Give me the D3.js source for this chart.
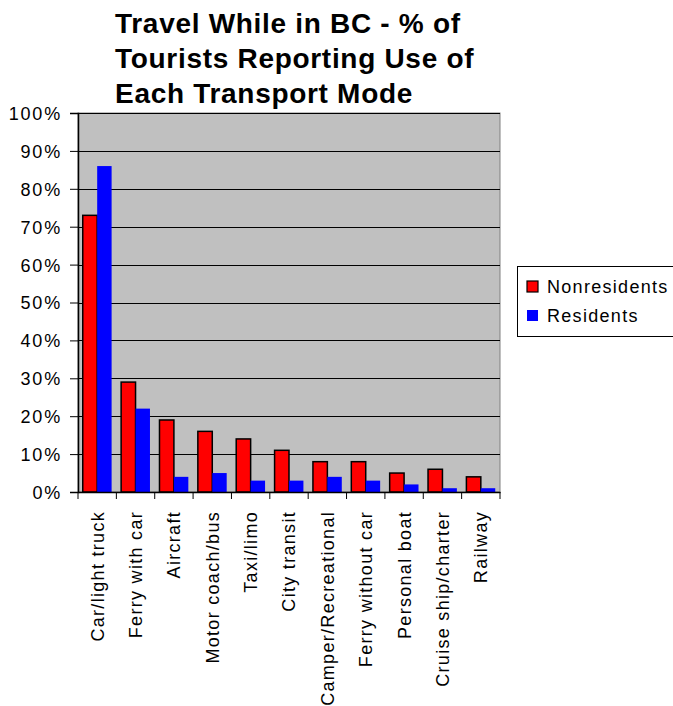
<!DOCTYPE html>
<html><head><meta charset="utf-8">
<script src="https://cdn.jsdelivr.net/npm/d3@7"></script>
<style>body{margin:0;background:#fff}svg{display:block}text{font-family:"Liberation Sans",Arial,sans-serif}</style>
</head><body>
<script>
const categories = ["Car/light truck","Ferry with car","Aircraft","Motor coach/bus","Taxi/limo","City transit","Camper/Recreational","Ferry without car","Personal boat","Cruise ship/charter","Railway"];
const nonresidents = [73,29,19,16,14,11,8,8,5,6,4];
const residents = [86,22,4,5,3,3,4,3,2,1,1];
const seriesNames = ["Nonresidents","Residents"];
const yTicks = [0,10,20,30,40,50,60,70,80,90,100];
const titleLines = ["Travel While in BC - % of","Tourists Reporting Use of","Each Transport Mode"];

const W=673,H=706;
const m={l:78,r:500,t:113,b:492};
const svg=d3.select("body").append("svg").attr("width",W).attr("height",H);

const x=d3.scaleBand().domain(categories).range([m.l,m.r]).paddingInner(0).paddingOuter(0);
const xs=d3.scaleBand().domain(seriesNames).range([0,x.bandwidth()]).paddingInner(0).paddingOuter(0.33);
const y=d3.scaleLinear().domain([0,100]).range([m.b,m.t]);

svg.append("rect").attr("x",m.l).attr("y",m.t).attr("width",m.r-m.l).attr("height",m.b-m.t).attr("fill","#c0c0c0").attr("stroke","#808080").attr("stroke-width",1);

svg.append("g").selectAll("line").data(yTicks.slice(1)).join("line")
 .attr("x1",m.l).attr("x2",m.r).attr("y1",d=>Math.round(y(d))+0.5).attr("y2",d=>Math.round(y(d))+0.5)
 .attr("stroke","#000").attr("stroke-width",1.2);

const data=categories.map((c,i)=>({c,v:[nonresidents[i],residents[i]]}));
const colors=["#ff0000","#0000ff"];
const g=svg.append("g");
data.forEach(d=>{
  seriesNames.forEach((s,j)=>{
    g.append("rect").attr("x",x(d.c)+xs(s)).attr("y",y(d.v[j])).attr("width",xs.bandwidth()).attr("height",y(0)-y(d.v[j]))
     .attr("fill",colors[j]).attr("stroke",j===0?"#000":"none").attr("stroke-width",1.5);
  });
});

const ya=d3.axisLeft(y).tickValues(yTicks).tickFormat(d=>d+"%").tickSize(8);
const yg=svg.append("g").attr("transform",`translate(${m.l},0)`).call(ya);
yg.select(".domain").attr("stroke","#000").attr("stroke-width",1.5);
yg.selectAll("text").attr("font-size",18).attr("letter-spacing","1.8px").attr("fill","#000").attr("x",-16).attr("dy","0.36em");

const xa=d3.axisBottom(x).tickValues([]).tickSizeOuter(0);
const xg=svg.append("g").attr("transform",`translate(0,${m.b})`).call(xa);
xg.select(".domain").attr("stroke","#000").attr("stroke-width",1.5);
xg.selectAll("line.tk").data(d3.range(categories.length+1)).join("line").attr("class","tk")
 .attr("x1",i=>m.l+i*x.step()).attr("x2",i=>m.l+i*x.step()).attr("y1",0).attr("y2",7).attr("stroke","#000");
svg.append("g").selectAll("text").data(categories).join("text")
 .attr("transform",d=>`translate(${x(d)+x.bandwidth()/2},511) rotate(-90)`)
 .attr("text-anchor","end").attr("dy","0.36em").attr("font-size",18).attr("letter-spacing","1.3px").attr("fill","#000").text(d=>d);

svg.append("g").selectAll("text").data(titleLines).join("text")
 .attr("x",115).attr("y",(d,i)=>33+i*35).attr("font-size",28).attr("letter-spacing","0.7px").attr("font-weight","bold").attr("fill","#000").text(d=>d);

const lg=svg.append("g");
lg.append("rect").attr("x",517.5).attr("y",266.5).attr("width",160).attr("height",70).attr("fill","#fff").attr("stroke","#000");
seriesNames.forEach((s,j)=>{
  lg.append("rect").attr("x",527).attr("y",281+j*29).attr("width",11).attr("height",11).attr("fill",colors[j]).attr("stroke",j===0?"#000":"none").attr("stroke-width",1.2);
  lg.append("text").attr("x",547).attr("y",293+j*29).attr("font-size",18).attr("letter-spacing","1.3px").attr("fill","#000").text(s);
});
</script>
</body></html>
